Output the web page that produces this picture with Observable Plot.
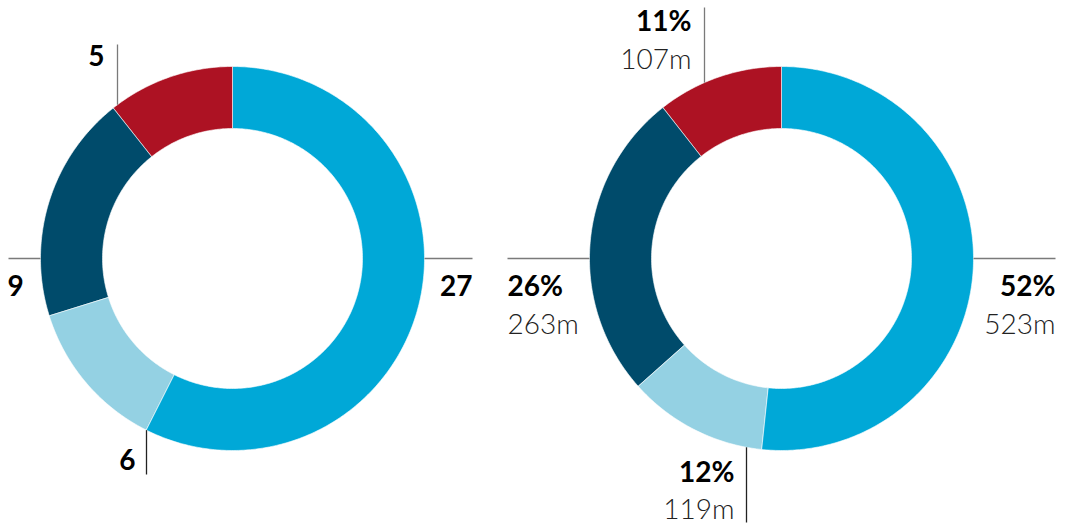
<!DOCTYPE html>
<html>
<head>
<meta charset="utf-8">
<script src="https://cdn.jsdelivr.net/npm/d3@7"></script>
<script src="https://cdn.jsdelivr.net/npm/@observablehq/plot@0.6"></script>
<style>
  html, body { margin: 0; padding: 0; background: #fff; }
  #chart svg { display: block; }
</style>
</head>
<body>
<div id="chart"></div>
<script>
// ---- data ----
const sliceNames = ["a", "b", "c", "d"];
const leftValues = [27, 6, 9, 5];
const rightValues = [523, 119, 263, 107];
const rightShares = ["52%", "12%", "26%", "11%"];
const rightAmounts = ["523m", "119m", "263m", "107m"];
const sliceColors = ["#00a8d7", "#94d1e3", "#004b6b", "#ad1223"];

// ---- layout ----
const W = 1066, H = 525;
const R = 192, r = 130;
const donuts = [
  {cx: 232, cy: 258, values: leftValues, labels: leftValues.map(String), sub: null},
  {cx: 781, cy: 258, values: rightValues, labels: rightShares, sub: rightAmounts}
];
// leader layout per donut per slice
const leaderLayout = [
  [
    {kind: "h", end: 472, tx: 472, anchor: "end", ty: 287},
    {kind: "v", dx: -86, end: 474, tx: 135, anchor: "end", ty: 461},
    {kind: "h", end: 8, tx: 7, anchor: "start", ty: 287},
    {kind: "v", dx: -115, end: 44, tx: 104, anchor: "end", ty: 57}
  ],
  [
    {kind: "h", end: 1055, tx: 1055, anchor: "end", ty: 287, ty2: 325},
    {kind: "v", dx: -35, end: 522, tx: 734, anchor: "end", ty: 473, ty2: 510},
    {kind: "h", end: 507, tx: 507, anchor: "start", ty: 287, ty2: 325},
    {kind: "v", dx: -77, end: 7, tx: 691, anchor: "end", ty: 22, ty2: 60}
  ]
];

// ---- build slice polygons ----
const pie = d3.pie().sort(null).value(d => d);
const polys = [];
donuts.forEach((dn, di) => {
  const arcs = pie(dn.values);
  arcs.forEach((a, i) => {
    const key = di + "-" + i;
    const n = Math.max(8, Math.ceil((a.endAngle - a.startAngle) * 80));
    for (let k = 0; k <= n; k++) {
      const t = a.startAngle + (a.endAngle - a.startAngle) * k / n;
      polys.push({key, color: sliceColors[i], x: dn.cx + R * Math.sin(t), y: dn.cy - R * Math.cos(t)});
    }
    for (let k = n; k >= 0; k--) {
      const t = a.startAngle + (a.endAngle - a.startAngle) * k / n;
      polys.push({key, color: sliceColors[i], x: dn.cx + r * Math.sin(t), y: dn.cy - r * Math.cos(t)});
    }
  });
});

// ---- leaders and labels ----
const leaders = [];
const mainLabels = [];
const subLabels = [];
donuts.forEach((dn, di) => {
  dn.values.forEach((v, i) => {
    const L = leaderLayout[di][i];
    if (L.kind === "h") {
      const sx = L.end > dn.cx ? dn.cx + R : dn.cx - R;
      leaders.push({x1: sx, y1: dn.cy, x2: L.end, y2: dn.cy, c: "#7a7a7a"});
    } else {
      const h = Math.sqrt(R * R - L.dx * L.dx);
      const sy = L.end < dn.cy ? dn.cy - h : dn.cy + h;
      leaders.push({x1: dn.cx + L.dx, y1: sy, x2: dn.cx + L.dx, y2: L.end, c: L.end < dn.cy ? "#7a7a7a" : "#222"});
    }
    mainLabels.push({x: L.tx, y: L.ty, text: dn.labels[i], anchor: L.anchor});
    if (dn.sub) subLabels.push({x: L.tx, y: L.ty2, text: dn.sub[i], anchor: L.anchor});
  });
});

const chart = Plot.plot({
  width: W,
  height: H,
  margin: 0,
  style: {fontFamily: "Lato, 'Open Sans', sans-serif", background: "#fff"},
  x: {domain: [0, W], range: [0, W], axis: null},
  y: {domain: [0, H], range: [0, H], axis: null},
  color: {type: "identity"},
  marks: [
    Plot.line(polys, {x: "x", y: "y", z: "key", fill: "color", stroke: "#fff", strokeWidth: 0.6, curve: "linear-closed"}),
    Plot.link(leaders, {x1: "x1", y1: "y1", x2: "x2", y2: "y2", stroke: "c", strokeWidth: 1.3}),
    Plot.text(mainLabels.filter(d => d.anchor === "end"), {x: "x", y: "y", text: "text", textAnchor: "end", fontSize: 28, fontWeight: 700, fill: "#000"}),
    Plot.text(mainLabels.filter(d => d.anchor === "start"), {x: "x", y: "y", text: "text", textAnchor: "start", fontSize: 28, fontWeight: 700, fill: "#000"}),
    Plot.text(subLabels.filter(d => d.anchor === "end"), {x: "x", y: "y", text: "text", textAnchor: "end", fontSize: 28, fontWeight: 300, fill: "#222"}),
    Plot.text(subLabels.filter(d => d.anchor === "start"), {x: "x", y: "y", text: "text", textAnchor: "start", fontSize: 28, fontWeight: 300, fill: "#222"})
  ]
});
document.getElementById("chart").appendChild(chart);
</script>
</body>
</html>
